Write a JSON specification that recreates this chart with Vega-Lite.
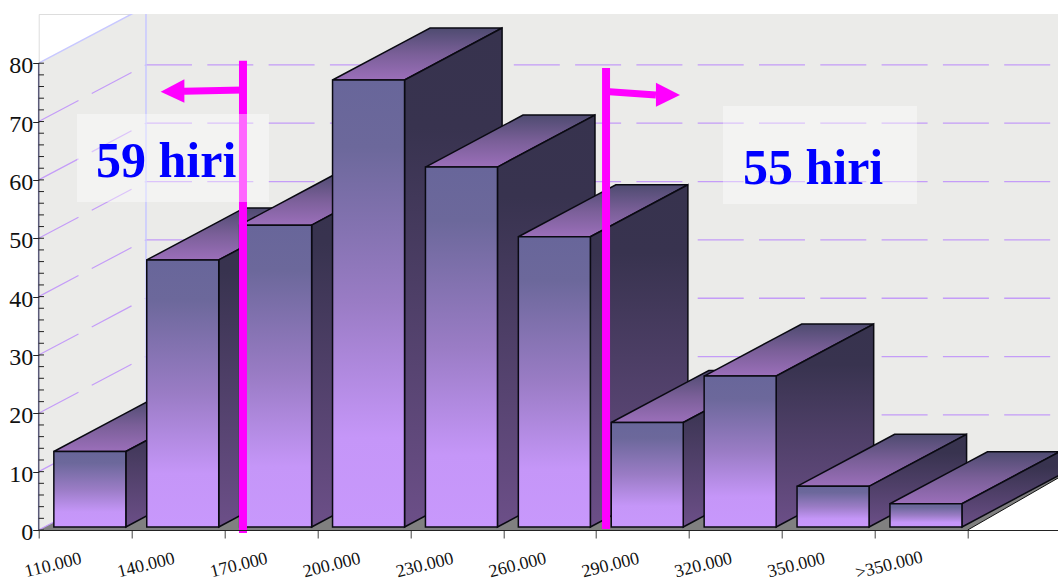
{
  "$schema": "https://vega.github.io/schema/vega-lite/v6.json",
  "autosize": "none",
  "width": 1019.3,
  "height": 516,
  "padding": {"left": 38.7, "top": 14, "right": 0, "bottom": 52},
  "background": "white",
  "datasets": {
    "bars": [
      {"label": "110.000", "bin": 0, "count": 13},
      {"label": "140.000", "bin": 1, "count": 46},
      {"label": "170.000", "bin": 2, "count": 52},
      {"label": "200.000", "bin": 3, "count": 77},
      {"label": "230.000", "bin": 4, "count": 62},
      {"label": "260.000", "bin": 5, "count": 50},
      {"label": "290.000", "bin": 6, "count": 18},
      {"label": "320.000", "bin": 7, "count": 26},
      {"label": "350.000", "bin": 8, "count": 7},
      {"label": ">350.000", "bin": 9, "count": 4}
    ],
    "walls": [
      {"part": "left", "x": 0, "low": 0, "high": 80},
      {"part": "left", "x": 1.155, "low": 9.72, "high": 89.72},
      {"part": "back", "x": 1.155, "low": 9.72, "high": 88.43},
      {"part": "back", "x": 10.972, "low": 9.72, "high": 88.43}
    ],
    "floor": [
      {"x": 0, "low": 0, "high": 0},
      {"x": 1.155, "low": 0, "high": 9.72},
      {"x": 10, "low": 0, "high": 9.72},
      {"x": 10.972, "low": 8.9, "high": 9.72}
    ],
    "grid": [
      {"v": 0}, {"v": 10}, {"v": 20}, {"v": 30}, {"v": 40}, {"v": 50}, {"v": 60}, {"v": 70}
    ],
    "edges": [
      {"x": 0, "x2": 1.155, "low": 80, "high": 89.72},
      {"x": 1.155, "x2": 1.155, "low": 9.72, "high": 88.43}
    ],
    "ticks": [
      {"v": 0}, {"v": 2}, {"v": 4}, {"v": 6}, {"v": 8}, {"v": 10}, {"v": 12}, {"v": 14}, {"v": 16}, {"v": 18},
      {"v": 20}, {"v": 22}, {"v": 24}, {"v": 26}, {"v": 28}, {"v": 30}, {"v": 32}, {"v": 34}, {"v": 36}, {"v": 38},
      {"v": 40}, {"v": 42}, {"v": 44}, {"v": 46}, {"v": 48}, {"v": 50}, {"v": 52}, {"v": 54}, {"v": 56}, {"v": 58},
      {"v": 60}, {"v": 62}, {"v": 64}, {"v": 66}, {"v": 68}, {"v": 70}, {"v": 72}, {"v": 74}, {"v": 76}, {"v": 78}, {"v": 80}
    ],
    "cutoffs": [
      {"x": 2.199, "low": -0.51, "high": 80.43},
      {"x": 6.107, "low": 0.17, "high": 79.18}
    ],
    "shafts": [
      {"x": 2.199, "x2": 1.564, "low": 75.4, "high": 75.18},
      {"x": 6.107, "x2": 6.644, "low": 75.15, "high": 74.55}
    ],
    "heads": [
      {"arrow": "left", "x": 1.313, "low": 75.12, "high": 75.12},
      {"arrow": "left", "x": 1.568, "low": 73.23, "high": 77.24},
      {"arrow": "right", "x": 6.644, "low": 72.55, "high": 76.66},
      {"arrow": "right", "x": 6.903, "low": 74.55, "high": 74.55}
    ],
    "notes": [
      {"text": "59 hiri", "x": 0.617, "y": 60.5, "x2": 0.412, "xEnd": 2.479, "low": 56.2, "high": 71.3},
      {"text": "55 hiri", "x": 7.581, "y": 59.3, "x2": 7.366, "xEnd": 9.454, "low": 55.87, "high": 72.66}
    ]
  },
  "encoding": {
    "x": {
      "field": "x",
      "type": "quantitative",
      "scale": {"domain": [0, 10.972], "nice": false, "zero": false},
      "axis": {
        "title": null,
        "grid": false,
        "values": [0, 1, 2, 3, 4, 5, 6, 7, 8, 9, 10],
        "labelExpr": "['110.000','140.000','170.000','200.000','230.000','260.000','290.000','320.000','350.000','>350.000',''][datum.value]",
        "labelFont": "Liberation Serif",
        "labelFontSize": 18,
        "labelColor": "#111111",
        "labelAngle": -14,
        "labelAlign": "center",
        "labelBaseline": "middle",
        "labelOffset": 14,
        "labelPadding": 27,
        "labelOverlap": false,
        "labelBound": false,
        "labelFlush": false,
        "tickSize": 8,
        "tickColor": "#444444",
        "domainColor": "#222222",
        "zindex": 1
      }
    }
  },
  "resolve": {"scale": {"y": "independent"}},
  "layer": [
    {
      "data": {"name": "walls"},
      "mark": {"type": "area", "orient": "vertical", "fill": "#ebebe9", "clip": true},
      "encoding": {
        "detail": {"field": "part"},
        "y": {
          "field": "low",
          "type": "quantitative",
          "scale": {"domain": [0, 88.43], "nice": false, "zero": false},
          "axis": {
            "title": null,
            "grid": false,
            "domain": false,
            "values": [0, 10, 20, 30, 40, 50, 60, 70, 80],
            "labelFont": "Liberation Serif",
            "labelFontSize": 24,
            "labelColor": "#111111",
            "labelOffset": 2.5,
            "labelPadding": 0,
            "labelFlush": false,
            "labelBound": false,
            "labelOverlap": false,
            "tickSize": 6,
            "tickColor": "#222222",
            "zindex": 1
          }
        },
        "y2": {"field": "high"}
      }
    },
    {
      "data": {"name": "floor"},
      "mark": {"type": "area", "orient": "vertical", "fill": "#808080", "clip": true},
      "encoding": {
        "y": {"field": "low", "type": "quantitative", "scale": {"domain": [0, 88.43], "nice": false, "zero": false}, "axis": null},
        "y2": {"field": "high"}
      }
    },
    {
      "data": {"name": "grid"},
      "transform": [
        {"calculate": "0", "as": "x"},
        {"calculate": "1.155", "as": "xEnd"},
        {"calculate": "datum.v + 9.72", "as": "vEnd"}
      ],
      "mark": {"type": "rule", "stroke": "#c49cf8", "strokeWidth": 1.2, "strokeDash": [45, 15], "clip": true},
      "encoding": {
        "x2": {"field": "xEnd"},
        "y": {"field": "v", "type": "quantitative", "scale": {"domain": [0, 88.43], "nice": false, "zero": false}, "axis": null},
        "y2": {"field": "vEnd"}
      }
    },
    {
      "data": {"name": "grid"},
      "transform": [
        {"filter": "datum.v > 0"},
        {"calculate": "1.155", "as": "x"},
        {"calculate": "10.972", "as": "xEnd"},
        {"calculate": "datum.v + 9.72", "as": "vBack"}
      ],
      "mark": {"type": "rule", "stroke": "#c49cf8", "strokeWidth": 1.3, "strokeDash": [46, 15.3], "clip": true},
      "encoding": {
        "x2": {"field": "xEnd"},
        "y": {"field": "vBack", "type": "quantitative", "scale": {"domain": [0, 88.43], "nice": false, "zero": false}, "axis": null}
      }
    },
    {
      "data": {"name": "edges"},
      "mark": {"type": "rule", "stroke": "#c8c8ff", "strokeWidth": 1.5, "clip": true},
      "encoding": {
        "x2": {"field": "x2"},
        "y": {"field": "low", "type": "quantitative", "scale": {"domain": [0, 88.43], "nice": false, "zero": false}, "axis": null},
        "y2": {"field": "high"}
      }
    },
    {
      "data": {"values": [{"x": 0, "low": 0, "high": 80}]},
      "mark": {"type": "rule", "stroke": "#5a5a78", "strokeWidth": 1.5},
      "encoding": {
        "y": {"field": "low", "type": "quantitative", "scale": {"domain": [0, 88.43], "nice": false, "zero": false}, "axis": null},
        "y2": {"field": "high"}
      }
    },
    {
      "data": {"name": "ticks"},
      "transform": [
        {"calculate": "0", "as": "x"},
        {"calculate": "0.057", "as": "xEnd"}
      ],
      "mark": {"type": "rule", "stroke": "#222222", "strokeWidth": 1},
      "encoding": {
        "x2": {"field": "xEnd"},
        "y": {"field": "v", "type": "quantitative", "scale": {"domain": [0, 88.43], "nice": false, "zero": false}, "axis": null}
      }
    },
    {
      "data": {"values": [{"x": 10, "xEnd": 10.972, "low": 0, "high": 8.9}]},
      "mark": {"type": "rule", "stroke": "#111111", "strokeWidth": 1},
      "encoding": {
        "x2": {"field": "xEnd"},
        "y": {"field": "low", "type": "quantitative", "scale": {"domain": [0, 88.43], "nice": false, "zero": false}, "axis": null},
        "y2": {"field": "high"}
      }
    },
    {
      "data": {"name": "bars"},
      "transform": [
        {
          "calculate": "[{f:'top',a:0,b:0,lv:1,ld:0,uv:1,ud:0},{f:'top',a:1,b:0,lv:1,ld:0,uv:1,ud:0.738},{f:'top',a:0,b:1,lv:1,ld:0.262,uv:1,ud:1},{f:'top',a:1,b:1,lv:1,ld:1,uv:1,ud:1},{f:'side',a:1,b:0,lv:0,ld:0,uv:1,ud:0},{f:'side',a:1,b:1,lv:0,ld:1,uv:1,ud:1},{f:'front',a:0,b:0,lv:0,ld:0,uv:1,ud:0},{f:'front',a:1,b:0,lv:0,ld:0,uv:1,ud:0}]",
          "as": "vertex"
        },
        {"flatten": ["vertex"]},
        {"calculate": "datum.bin + 0.163 + datum.vertex.a * 0.775 + datum.vertex.b * 1.05", "as": "x"},
        {"calculate": "datum.vertex.lv * datum.count + datum.vertex.ld * 8.96", "as": "low"},
        {"calculate": "datum.vertex.uv * datum.count + datum.vertex.ud * 8.96", "as": "high"},
        {"calculate": "datum.bin + '-' + datum.vertex.f", "as": "face"},
        {
          "calculate": "datum.vertex.f === 'front' ? {gradient:'linear',x1:0,y1:0,x2:0,y2:1,stops:[{offset:0,color:'#68669a'},{offset:0.15,color:'#6c689b'},{offset:0.5,color:'#9a7cc5'},{offset:0.8,color:'#c596f8'},{offset:1,color:'#c898fc'}]} : datum.vertex.f === 'side' ? {gradient:'linear',x1:0,y1:0,x2:0,y2:1,stops:[{offset:0,color:'#37334e'},{offset:0.2,color:'#38334f'},{offset:1,color:'#6c4f88'}]} : {gradient:'linear',x1:0,y1:0,x2:0,y2:1,stops:[{offset:0,color:'#4e4b70'},{offset:0.5,color:'#7a5f98'},{offset:1,color:'#9b6fba'}]}",
          "as": "paint"
        }
      ],
      "mark": {"type": "area", "orient": "vertical", "stroke": "#0a0a12", "strokeWidth": 1.5, "strokeJoin": "miter"},
      "encoding": {
        "detail": {"field": "face"},
        "fill": {"field": "paint", "type": "nominal", "scale": null},
        "y": {"field": "low", "type": "quantitative", "scale": {"domain": [-0.517, 88.37], "nice": false, "zero": false}, "axis": null},
        "y2": {"field": "high"}
      }
    },
    {
      "data": {"name": "cutoffs"},
      "mark": {"type": "rule", "stroke": "#ff00ff", "strokeWidth": 8, "clip": false},
      "encoding": {
        "y": {"field": "low", "type": "quantitative", "scale": {"domain": [0, 88.43], "nice": false, "zero": false}, "axis": null},
        "y2": {"field": "high"}
      }
    },
    {
      "data": {"name": "shafts"},
      "mark": {"type": "rule", "stroke": "#ff00ff", "strokeWidth": 7},
      "encoding": {
        "x2": {"field": "x2"},
        "y": {"field": "low", "type": "quantitative", "scale": {"domain": [0, 88.43], "nice": false, "zero": false}, "axis": null},
        "y2": {"field": "high"}
      }
    },
    {
      "data": {"name": "heads"},
      "mark": {"type": "area", "orient": "vertical", "fill": "#ff00ff"},
      "encoding": {
        "detail": {"field": "arrow"},
        "y": {"field": "low", "type": "quantitative", "scale": {"domain": [0, 88.43], "nice": false, "zero": false}, "axis": null},
        "y2": {"field": "high"}
      }
    },
    {
      "data": {"name": "notes"},
      "transform": [{"calculate": "datum.x2", "as": "x"}],
      "mark": {"type": "rect", "fill": "#ffffff", "opacity": 0.4},
      "encoding": {
        "x2": {"field": "xEnd"},
        "y": {"field": "low", "type": "quantitative", "scale": {"domain": [0, 88.43], "nice": false, "zero": false}, "axis": null},
        "y2": {"field": "high"}
      }
    },
    {
      "data": {"name": "notes"},
      "mark": {"type": "text", "font": "Liberation Serif", "fontWeight": "bold", "fontSize": 50, "fill": "#0000ff", "align": "left", "baseline": "alphabetic"},
      "encoding": {
        "text": {"field": "text"},
        "y": {"field": "y", "type": "quantitative", "scale": {"domain": [0, 88.43], "nice": false, "zero": false}, "axis": null}
      }
    }
  ]
}
